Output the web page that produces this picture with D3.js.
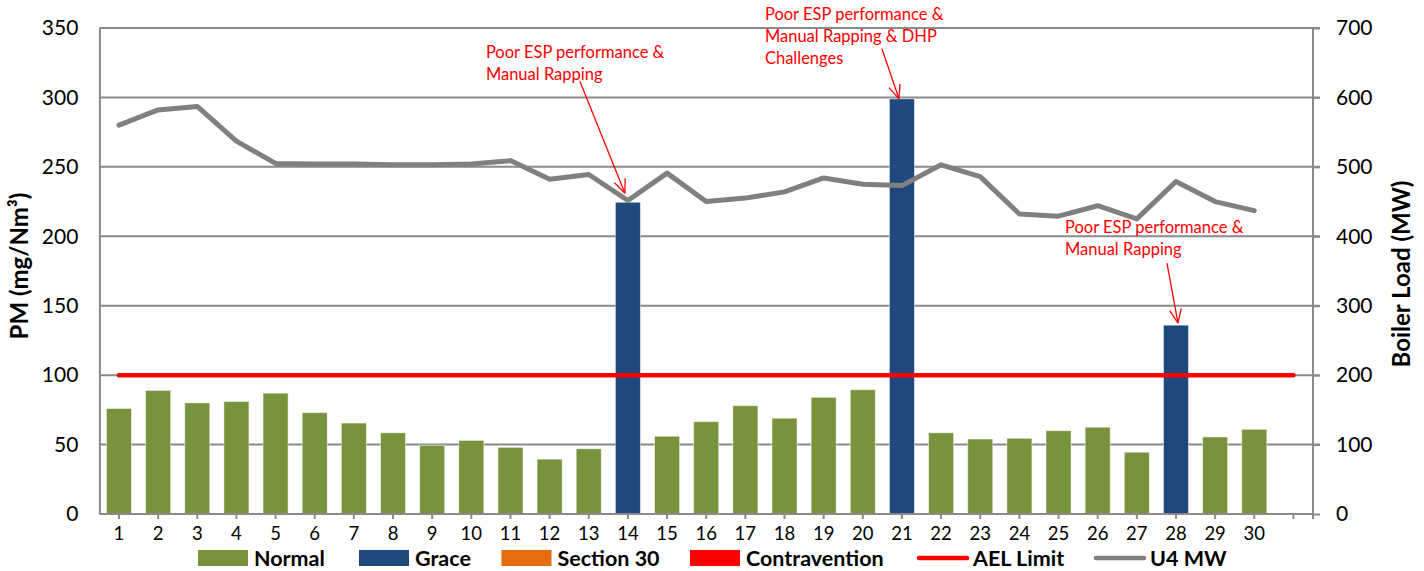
<!DOCTYPE html>
<html>
<head>
<meta charset="utf-8">
<script src="https://cdn.jsdelivr.net/npm/d3@7"></script>
<style>
  body { margin: 0; background: #fff; }
  svg { display: block; font-family: Lato, "Open Sans", sans-serif; }
</style>
</head>
<body>
<div class="vis-chart"></div>
<script>
// days of the month (31st slot is empty on the axis)
const days = ["1","2","3","4","5","6","7","8","9","10","11","12","13","14","15",
              "16","17","18","19","20","21","22","23","24","25","26","27","28","29","30","31"];
const dayLabels = ["1","2","3","4","5","6","7","8","9","10","11","12","13","14","15",
              "16","17","18","19","20","21","22","23","24","25","26","27","28","29","30",""];

// PM (mg/Nm3) per day and its status
const pm = [76, 89, 80, 81, 87, 73, 65.5, 58.5, 49.5, 53, 48, 39.5, 47, 224.5, 56,
            66.5, 78, 69, 84, 89.5, 299, 58.5, 54, 54.5, 60, 62.5, 44.5, 136, 55.5, 61];
const status = ["Normal","Normal","Normal","Normal","Normal","Normal","Normal","Normal","Normal","Normal",
                "Normal","Normal","Normal","Grace","Normal","Normal","Normal","Normal","Normal","Normal",
                "Grace","Normal","Normal","Normal","Normal","Normal","Normal","Grace","Normal","Normal"];

// boiler load, U4 MW
const mw = [560, 582, 587, 537, 505, 504, 504, 503, 503, 504, 509, 482, 489, 451.5, 491,
            450, 455, 464, 484, 475, 473, 503, 486, 432, 429, 444, 425, 479, 450, 437];

// AEL limit runs to the 31st slot
const aelLimit = [100,100,100,100,100,100,100,100,100,100,100,100,100,100,100,100,
                  100,100,100,100,100,100,100,100,100,100,100,100,100,100,100];

const leftTicks = [0, 50, 100, 150, 200, 250, 300, 350];
const rightTicks = [0, 100, 200, 300, 400, 500, 600, 700];

const legendKeys = ["Normal", "Grace", "Section 30", "Contravention", "AEL Limit", "U4 MW"];
const legendTypes = ["rect", "rect", "rect", "rect", "line", "line"];

const annoDays = ["14", "21", "28"];
const annoText = [
  ["Poor ESP performance &", "Manual Rapping"],
  ["Poor ESP performance &", "Manual Rapping & DHP", "Challenges"],
  ["Poor ESP performance &", "Manual Rapping"]
];

const color = d3.scaleOrdinal()
  .domain(legendKeys)
  .range(["#77933C", "#1F497D", "#E46C0A", "#FF0000", "#FF0000", "#808080"]);

const W = 1424, H = 571;
const margin = {left: 99.4, right: 1313, top: 28, bottom: 514};
const gridColor = "#8a8a8a";

const svg = d3.select(".vis-chart").append("svg")
  .attr("width", W).attr("height", H);

const x = d3.scaleBand().domain(days).range([margin.left, margin.right]).padding(0);
const cx = d => x(d) + x.bandwidth() / 2;
const yL = d3.scaleLinear().domain([0, 350]).range([margin.bottom, margin.top]);
const yR = d3.scaleLinear().domain([0, 700]).range([margin.bottom, margin.top]);

// gridlines (extend past right axis as its ticks)
svg.append("g").selectAll("line")
  .data(leftTicks.filter(t => t > 0))
  .enter().append("line")
    .attr("x1", margin.left).attr("x2", margin.right + 7)
    .attr("y1", d => yL(d)).attr("y2", d => yL(d))
    .attr("stroke", gridColor).attr("stroke-width", 2);

// left axis
const axL = svg.append("g")
  .attr("transform", "translate(" + margin.left + ",0)")
  .call(d3.axisLeft(yL).tickValues(leftTicks).tickSize(0).tickPadding(21));
axL.select(".domain").attr("stroke", gridColor).attr("stroke-width", 2);
axL.selectAll("text").attr("font-size", 21).attr("fill", "#000").attr("font-family", "Lato");

// right axis
const axR = svg.append("g")
  .attr("transform", "translate(" + margin.right + ",0)")
  .call(d3.axisRight(yR).tickValues(rightTicks).tickSize(7).tickPadding(16));
axR.select(".domain").attr("stroke", gridColor).attr("stroke-width", 2)
  .attr("d", "M0," + margin.top + "V" + margin.bottom);
axR.selectAll(".tick line").attr("stroke", gridColor).attr("stroke-width", 2);
axR.selectAll("text").attr("font-size", 21).attr("fill", "#000").attr("font-family", "Lato");

// bars
svg.append("g").selectAll("rect")
  .data(pm)
  .enter().append("rect")
    .attr("x", (d, i) => cx(days[i]) - x.bandwidth() * 0.32)
    .attr("width", x.bandwidth() * 0.64)
    .attr("y", d => yL(d))
    .attr("height", d => margin.bottom - yL(d))
    .attr("fill", (d, i) => color(status[i]))
    .attr("stroke", "#ffffff").attr("stroke-opacity", 0.5).attr("stroke-width", 1);

// bottom axis
const axB = svg.append("g")
  .attr("transform", "translate(0," + margin.bottom + ")")
  .call(d3.axisBottom(x).tickSize(5).tickPadding(8).tickFormat((d, i) => dayLabels[i]));
axB.select(".domain").attr("stroke", gridColor).attr("stroke-width", 2)
  .attr("d", "M" + margin.left + ",0H" + margin.right);
axB.selectAll(".tick line").attr("stroke", gridColor).attr("stroke-width", 2);
axB.selectAll("text").attr("font-size", 18.5).attr("fill", "#000").attr("font-family", "Lato");
axB.append("line").attr("x1", margin.right).attr("x2", margin.right).attr("y1", 0).attr("y2", 5)
  .attr("stroke", gridColor).attr("stroke-width", 2);

// AEL limit
svg.append("path")
  .datum(aelLimit)
  .attr("fill", "none")
  .attr("stroke", color("AEL Limit"))
  .attr("stroke-width", 4.5)
  .attr("stroke-linecap", "round")
  .attr("d", d3.line().x((d, i) => cx(days[i])).y(d => yL(d)));

// U4 MW
svg.append("path")
  .datum(mw)
  .attr("fill", "none")
  .attr("stroke", color("U4 MW"))
  .attr("stroke-width", 5)
  .attr("stroke-linejoin", "round")
  .attr("stroke-linecap", "round")
  .attr("d", d3.line().x((d, i) => cx(days[i])).y(d => yR(d)));

// axis titles
svg.append("text")
  .attr("transform", "translate(22,266) rotate(-90)")
  .attr("text-anchor", "middle")
  .attr("dominant-baseline", "middle")
  .attr("font-size", 24).attr("font-weight", "bold")
  .text("PM (mg/Nm³)");

svg.append("text")
  .attr("transform", "translate(1404,274) rotate(-90)")
  .attr("text-anchor", "middle")
  .attr("dominant-baseline", "middle")
  .attr("font-size", 24).attr("font-weight", "bold")
  .text("Boiler Load (MW)");

// annotations: text offset and arrow tail relative to arrow tip
const annoLayout = [
  { tipDx: -3, tipDy: -9, textDx: -139, textDy: -135, tailDx: -45, tailDy: -112 },
  { tipDx: -3, tipDy: 0, textDx: -134, textDy: -79, tailDx: -17, tailDy: -50 },
  { tipDx: 2, tipDy: -2, textDx: -113, textDy: -90, tailDx: -11, tailDy: -60 }
];

annoDays.forEach((day, k) => {
  const L = annoLayout[k];
  const tx = cx(day) + L.tipDx;
  const ty = yL(pm[days.indexOf(day)]) + L.tipDy;
  const g = svg.append("g");
  const t = g.append("text")
    .attr("x", tx + L.textDx).attr("y", ty + L.textDy)
    .attr("font-size", 16.5).attr("fill", "#FF0000");
  annoText[k].forEach((line, j) => {
    t.append("tspan").attr("x", tx + L.textDx).attr("dy", j === 0 ? 0 : 22).text(line);
  });
  const sx = tx + L.tailDx, sy = ty + L.tailDy;
  g.append("line").attr("x1", sx).attr("y1", sy).attr("x2", tx).attr("y2", ty)
    .attr("stroke", "#FF0000").attr("stroke-width", 1.3);
  const ang = Math.atan2(ty - sy, tx - sx);
  [-0.4, 0.4].forEach(a => {
    g.append("line")
      .attr("x1", tx).attr("y1", ty)
      .attr("x2", tx - 15 * Math.cos(ang + a)).attr("y2", ty - 15 * Math.sin(ang + a))
      .attr("stroke", "#FF0000").attr("stroke-width", 1.3);
  });
});

// legend
const legendX = [198, 359, 501.5, 690, 917, 1094];
const legend = svg.append("g");
legendKeys.forEach((key, i) => {
  const lx = legendX[i];
  if (legendTypes[i] === "rect") {
    legend.append("rect").attr("x", lx).attr("y", 550).attr("width", 50).attr("height", 16)
      .attr("fill", color(key));
  } else {
    legend.append("line").attr("x1", lx + 2).attr("x2", lx + 50).attr("y1", 558).attr("y2", 558)
      .attr("stroke", color(key)).attr("stroke-width", 4.5).attr("stroke-linecap", "round");
  }
  legend.append("text")
    .attr("x", lx + 56).attr("y", 566)
    .attr("font-size", 21.5).attr("font-weight", "bold")
    .text(key);
});
</script>
</body>
</html>
